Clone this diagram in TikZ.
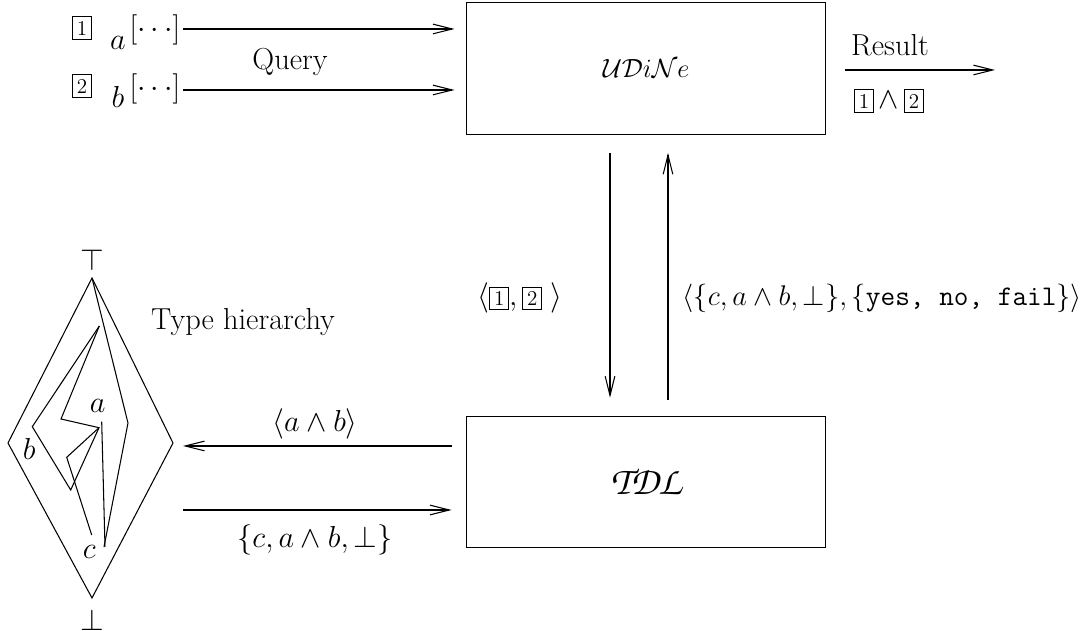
\RequirePackage{fix-cm}
\documentclass[tikz,border=0pt]{standalone}
\usetikzlibrary{arrows.meta}
\newcommand\bx[1]{{\setlength\fboxsep{2.2pt}\setlength\fboxrule{0.5pt}\fbox{\large #1}}}
\newcommand\chanc[1]{{\fontencoding{T1}\fontfamily{pzc}\fontseries{mb}\fontshape{it}\selectfont #1}}
\begin{document}
\begin{tikzpicture}[x=0.02cm,y=-0.02cm,line width=0.6pt,
  arr/.style={-{Straight Barb[length=11pt,width=5.5pt]}},
  lbl/.style={inner sep=0pt,font=\LARGE},
  sysbox/.style={draw,minimum width=7.2cm,minimum height=2.63cm}]
\useasboundingbox (0,0) rectangle (1083,631);
% boxes
\node[sysbox,font=\fontsize{15}{18}\selectfont] (udine) at (646,68.5) {$\mathcal{UD}i\mathcal{N}e$\hspace{0.3cm}};
\node[sysbox,font=\fontsize{22.5}{27}\selectfont] (tdl) at (646,482) {\chanc{TDL}};
% inputs
\node[lbl] (n1) at (82,28) {\bx1};
\node[lbl] (ia) at (118,43) {$a$};
\node[lbl] (d1) at (155,30) {$[\cdots]$};
\node[lbl] (n2) at (82,86) {\bx2};
\node[lbl] (ib) at (118,97) {$b$};
\node[lbl] (d2) at (155,89) {$[\cdots]$};
\coordinate (q1) at (183,29);
\coordinate (q2) at (183,90);
\draw[arr,shorten >=0.22cm] (q1) -- (q1 -| udine.west);
\draw[arr,shorten >=0.22cm] (q2) -- (q2 -| udine.west);
\node[lbl] (query) at (290,62) {Query};
% result
\coordinate (res) at (995,70);
\draw[arr,shorten <=0.38cm] (res -| udine.east) -- (res);
\node[lbl] (result) at (890,45) {Result};
\node[lbl] (resv) at (889,101) {\bx1$\,\wedge\,$\bx2};
% vertical
\draw[arr,shorten <=0.36cm,shorten >=0.36cm] ([xshift=-0.72cm]udine.south) -- ([xshift=-0.72cm]tdl.north);
\draw[arr,shorten <=0.32cm,shorten >=0.36cm] ([xshift=0.44cm]tdl.north) -- ([xshift=0.44cm]udine.south);
\node[lbl] (qlab) at (520,298) {$\langle\bx1,\bx2\;\rangle$};
\node[lbl,anchor=west,font=\fontsize{16.2}{19}\selectfont] (rlab) at (682,298) {$\langle\{c,a\wedge b,\bot\},\{\texttt{yes, no, fail}\}\rangle$};
% hierarchy
\coordinate (top) at (92,278);
\coordinate (lft) at (8,443);
\coordinate (rgt) at (173,443);
\coordinate (bot) at (92,598);
\draw (top) -- (rgt) -- (bot) -- (lft) -- cycle;
\node[lbl] (tsym) at (92,260) {$\top$};
\node[lbl] (bsym) at (92,620) {$\bot$};
\draw (top) -- (128,423) -- (104,547);
\draw (99.3,326) -- (32.3,426.7) -- (70.7,490) -- (99,427.7);
\draw (99.3,326) -- (61,419) -- (99,427.7) -- (66.7,457.3) -- (91.7,535);
\draw (101.7,421.7) -- (105,546.7);
\node[lbl] (la) at (97.7,406) {$a$};
\node[lbl] (lb) at (29.3,449) {$b$};
\node[lbl] (lc) at (89.3,552) {$c$};
\node[lbl] (th) at (243,322) {Type hierarchy};
% bottom arrows
\coordinate (h1) at (183,446);
\coordinate (h2) at (183,510);
\draw[arr,shorten <=0.28cm] (h1 -| tdl.west) -- (h1);
\draw[arr,shorten >=0.28cm] (h2) -- (h2 -| tdl.west);
\node[lbl] (ab) at (315,424) {$\langle a\wedge b\rangle$};
\node[lbl] (set) at (315,540) {$\{c,a\wedge b,\bot\}$};
\end{tikzpicture}
\end{document}
